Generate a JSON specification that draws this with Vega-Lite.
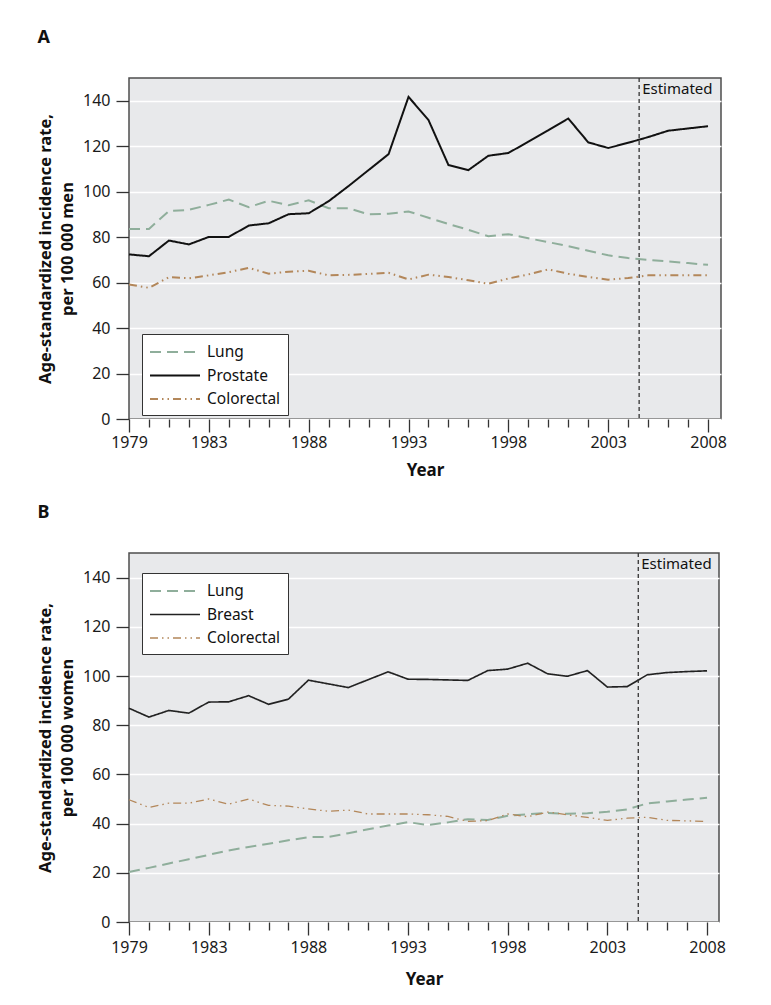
{
  "$schema": "https://vega.github.io/schema/vega-lite/v6.json",
  "background": "white",
  "padding": {"left": 36, "top": 28, "right": 10, "bottom": 5},
  "spacing": 24,
  "config": {
    "font": "Noto Sans",
    "view": {"fill": "#e8e9eb", "stroke": "#4d4d4d", "strokeWidth": 1.5},
    "axis": {"labelFontSize": 16, "labelColor": "#1a1a1a", "titleFontSize": 17, "titleFontWeight": "bold", "titleColor": "#111111", "tickColor": "#333333", "tickWidth": 1.3, "domain": false},
    "axisY": {"titleFont": "Liberation Sans Narrow, Noto Sans", "titleFontSize": 16.5},
    "legend": {"title": null, "orient": "none", "strokeColor": "#333333", "fillColor": "white", "padding": 7, "symbolType": "M-1,0H4", "symbolSize": 400, "symbolStrokeWidth": 2, "labelFontSize": 15.5, "labelOffset": 36, "rowPadding": 3.5, "labelColor": "#111111"},
    "title": {"fontSize": 18, "fontWeight": "bold", "anchor": "start", "frame": "bounds", "offset": 30, "color": "#111111"}
  },
  "datasets": {
    "men": [
      {"year":1979,"series":"Lung","rate":83.6},{"year":1980,"series":"Lung","rate":83.6},{"year":1981,"series":"Lung","rate":91.5},{"year":1982,"series":"Lung","rate":92.0},{"year":1983,"series":"Lung","rate":94.2},{"year":1984,"series":"Lung","rate":96.5},{"year":1985,"series":"Lung","rate":93.2},{"year":1986,"series":"Lung","rate":96.0},{"year":1987,"series":"Lung","rate":94.0},{"year":1988,"series":"Lung","rate":96.2},{"year":1989,"series":"Lung","rate":92.7},{"year":1990,"series":"Lung","rate":92.7},{"year":1991,"series":"Lung","rate":90.0},{"year":1992,"series":"Lung","rate":90.3},{"year":1993,"series":"Lung","rate":91.3},{"year":1994,"series":"Lung","rate":88.5},{"year":1995,"series":"Lung","rate":85.8},{"year":1996,"series":"Lung","rate":83.2},{"year":1997,"series":"Lung","rate":80.4},{"year":1998,"series":"Lung","rate":81.3},{"year":1999,"series":"Lung","rate":79.5},{"year":2000,"series":"Lung","rate":77.8},{"year":2001,"series":"Lung","rate":76.0},{"year":2002,"series":"Lung","rate":74.0},{"year":2003,"series":"Lung","rate":72.0},{"year":2004,"series":"Lung","rate":70.8},{"year":2005,"series":"Lung","rate":70.0},{"year":2006,"series":"Lung","rate":69.3},{"year":2007,"series":"Lung","rate":68.6},{"year":2008,"series":"Lung","rate":67.8},
      {"year":1979,"series":"Prostate","rate":72.4},{"year":1980,"series":"Prostate","rate":71.6},{"year":1981,"series":"Prostate","rate":78.5},{"year":1982,"series":"Prostate","rate":76.8},{"year":1983,"series":"Prostate","rate":80.1},{"year":1984,"series":"Prostate","rate":80.1},{"year":1985,"series":"Prostate","rate":85.1},{"year":1986,"series":"Prostate","rate":86.1},{"year":1987,"series":"Prostate","rate":90.1},{"year":1988,"series":"Prostate","rate":90.5},{"year":1989,"series":"Prostate","rate":95.8},{"year":1990,"series":"Prostate","rate":102.5},{"year":1991,"series":"Prostate","rate":109.5},{"year":1992,"series":"Prostate","rate":116.5},{"year":1993,"series":"Prostate","rate":141.7},{"year":1994,"series":"Prostate","rate":131.5},{"year":1995,"series":"Prostate","rate":111.7},{"year":1996,"series":"Prostate","rate":109.5},{"year":1997,"series":"Prostate","rate":115.8},{"year":1998,"series":"Prostate","rate":117.0},{"year":1999,"series":"Prostate","rate":122.0},{"year":2000,"series":"Prostate","rate":127.0},{"year":2001,"series":"Prostate","rate":132.2},{"year":2002,"series":"Prostate","rate":121.7},{"year":2003,"series":"Prostate","rate":119.2},{"year":2004,"series":"Prostate","rate":121.5},{"year":2005,"series":"Prostate","rate":124.0},{"year":2006,"series":"Prostate","rate":126.8},{"year":2007,"series":"Prostate","rate":127.8},{"year":2008,"series":"Prostate","rate":128.8},
      {"year":1979,"series":"Colorectal","rate":59.2},{"year":1980,"series":"Colorectal","rate":57.7},{"year":1981,"series":"Colorectal","rate":62.4},{"year":1982,"series":"Colorectal","rate":61.9},{"year":1983,"series":"Colorectal","rate":63.2},{"year":1984,"series":"Colorectal","rate":64.6},{"year":1985,"series":"Colorectal","rate":66.5},{"year":1986,"series":"Colorectal","rate":63.9},{"year":1987,"series":"Colorectal","rate":64.8},{"year":1988,"series":"Colorectal","rate":65.2},{"year":1989,"series":"Colorectal","rate":63.2},{"year":1990,"series":"Colorectal","rate":63.4},{"year":1991,"series":"Colorectal","rate":63.8},{"year":1992,"series":"Colorectal","rate":64.3},{"year":1993,"series":"Colorectal","rate":61.4},{"year":1994,"series":"Colorectal","rate":63.5},{"year":1995,"series":"Colorectal","rate":62.5},{"year":1996,"series":"Colorectal","rate":61.0},{"year":1997,"series":"Colorectal","rate":59.5},{"year":1998,"series":"Colorectal","rate":61.8},{"year":1999,"series":"Colorectal","rate":63.6},{"year":2000,"series":"Colorectal","rate":65.8},{"year":2001,"series":"Colorectal","rate":63.9},{"year":2002,"series":"Colorectal","rate":62.5},{"year":2003,"series":"Colorectal","rate":61.3},{"year":2004,"series":"Colorectal","rate":62.0},{"year":2005,"series":"Colorectal","rate":63.2},{"year":2006,"series":"Colorectal","rate":63.2},{"year":2007,"series":"Colorectal","rate":63.2},{"year":2008,"series":"Colorectal","rate":63.2}
    ],
    "women": [
      {"year":1979,"series":"Lung","rate":20.3},{"year":1980,"series":"Lung","rate":22.0},{"year":1981,"series":"Lung","rate":23.8},{"year":1982,"series":"Lung","rate":25.5},{"year":1983,"series":"Lung","rate":27.3},{"year":1984,"series":"Lung","rate":29.1},{"year":1985,"series":"Lung","rate":30.5},{"year":1986,"series":"Lung","rate":31.8},{"year":1987,"series":"Lung","rate":33.2},{"year":1988,"series":"Lung","rate":34.5},{"year":1989,"series":"Lung","rate":34.6},{"year":1990,"series":"Lung","rate":36.1},{"year":1991,"series":"Lung","rate":37.7},{"year":1992,"series":"Lung","rate":39.2},{"year":1993,"series":"Lung","rate":40.6},{"year":1994,"series":"Lung","rate":39.4},{"year":1995,"series":"Lung","rate":40.5},{"year":1996,"series":"Lung","rate":41.8},{"year":1997,"series":"Lung","rate":41.5},{"year":1998,"series":"Lung","rate":43.2},{"year":1999,"series":"Lung","rate":43.8},{"year":2000,"series":"Lung","rate":44.3},{"year":2001,"series":"Lung","rate":44.0},{"year":2002,"series":"Lung","rate":44.2},{"year":2003,"series":"Lung","rate":44.8},{"year":2004,"series":"Lung","rate":45.8},{"year":2005,"series":"Lung","rate":48.2},{"year":2006,"series":"Lung","rate":49.0},{"year":2007,"series":"Lung","rate":49.8},{"year":2008,"series":"Lung","rate":50.5},
      {"year":1979,"series":"Breast","rate":86.9},{"year":1980,"series":"Breast","rate":83.3},{"year":1981,"series":"Breast","rate":86.0},{"year":1982,"series":"Breast","rate":84.9},{"year":1983,"series":"Breast","rate":89.4},{"year":1984,"series":"Breast","rate":89.5},{"year":1985,"series":"Breast","rate":92.0},{"year":1986,"series":"Breast","rate":88.5},{"year":1987,"series":"Breast","rate":90.6},{"year":1988,"series":"Breast","rate":98.3},{"year":1989,"series":"Breast","rate":96.8},{"year":1990,"series":"Breast","rate":95.3},{"year":1991,"series":"Breast","rate":98.5},{"year":1992,"series":"Breast","rate":101.7},{"year":1993,"series":"Breast","rate":98.7},{"year":1994,"series":"Breast","rate":98.6},{"year":1995,"series":"Breast","rate":98.4},{"year":1996,"series":"Breast","rate":98.2},{"year":1997,"series":"Breast","rate":102.2},{"year":1998,"series":"Breast","rate":102.8},{"year":1999,"series":"Breast","rate":105.2},{"year":2000,"series":"Breast","rate":100.9},{"year":2001,"series":"Breast","rate":99.9},{"year":2002,"series":"Breast","rate":102.2},{"year":2003,"series":"Breast","rate":95.5},{"year":2004,"series":"Breast","rate":95.7},{"year":2005,"series":"Breast","rate":100.5},{"year":2006,"series":"Breast","rate":101.4},{"year":2007,"series":"Breast","rate":101.8},{"year":2008,"series":"Breast","rate":102.1},
      {"year":1979,"series":"Colorectal","rate":49.7},{"year":1980,"series":"Colorectal","rate":46.6},{"year":1981,"series":"Colorectal","rate":48.3},{"year":1982,"series":"Colorectal","rate":48.3},{"year":1983,"series":"Colorectal","rate":50.0},{"year":1984,"series":"Colorectal","rate":47.9},{"year":1985,"series":"Colorectal","rate":50.0},{"year":1986,"series":"Colorectal","rate":47.4},{"year":1987,"series":"Colorectal","rate":47.1},{"year":1988,"series":"Colorectal","rate":46.0},{"year":1989,"series":"Colorectal","rate":45.0},{"year":1990,"series":"Colorectal","rate":45.5},{"year":1991,"series":"Colorectal","rate":43.9},{"year":1992,"series":"Colorectal","rate":43.9},{"year":1993,"series":"Colorectal","rate":43.9},{"year":1994,"series":"Colorectal","rate":43.6},{"year":1995,"series":"Colorectal","rate":42.9},{"year":1996,"series":"Colorectal","rate":40.9},{"year":1997,"series":"Colorectal","rate":41.2},{"year":1998,"series":"Colorectal","rate":43.9},{"year":1999,"series":"Colorectal","rate":42.8},{"year":2000,"series":"Colorectal","rate":44.7},{"year":2001,"series":"Colorectal","rate":43.6},{"year":2002,"series":"Colorectal","rate":42.5},{"year":2003,"series":"Colorectal","rate":41.3},{"year":2004,"series":"Colorectal","rate":42.2},{"year":2005,"series":"Colorectal","rate":42.6},{"year":2006,"series":"Colorectal","rate":41.3},{"year":2007,"series":"Colorectal","rate":41.1},{"year":2008,"series":"Colorectal","rate":40.9}
    ]
  },
  "resolve": {"scale": {"color": "independent", "strokeDash": "independent", "strokeWidth": "independent"}, "legend": {"color": "independent", "strokeDash": "independent", "strokeWidth": "independent"}},
  "vconcat": [
    {
      "title": {"text": "A"},
      "width": 592,
      "height": 341,
      "layer": [
        {
          "data": {"name": "men"},
          "mark": {"type": "line", "strokeWidth": 2},
          "encoding": {
            "x": {"field": "year", "type": "quantitative", "scale": {"domain": [1979, 2008.65], "nice": false, "zero": false},
              "axis": {"values": [1979,1980,1981,1982,1983,1984,1985,1986,1987,1988,1989,1990,1991,1992,1993,1994,1995,1996,1997,1998,1999,2000,2001,2002,2003,2004,2005,2006,2007,2008],
                "tickCount": 60,
                "labelExpr": "indexof([1979,1983,1988,1993,1998,2003,2008], datum.value) >= 0 ? '' + datum.value : ''",
                "tickSize": {"condition": {"test": "indexof([1979,1983,1988,1993,1998,2003,2008], datum.value) >= 0", "value": 13}, "value": 8},
                "labelPadding": 2, "labelOverlap": false, "labelFlush": false, "grid": false, "title": "Year", "titlePadding": 12}},
            "y": {"field": "rate", "type": "quantitative", "scale": {"domain": [0, 150], "nice": false},
              "axis": {"values": [0,20,40,60,80,100,120,140], "grid": true, "gridColor": "white", "gridWidth": 1.5, "tickSize": 13, "labelPadding": 6, "titlePadding": 7, "titleLineHeight": 22,
                "title": ["Age-standardized incidence rate,", "per 100 000 men"]}},
            "color": {"field": "series", "type": "nominal", "scale": {"domain": ["Lung", "Prostate", "Colorectal"], "range": ["#8fae9b", "#111111", "#b3875a"]},
              "legend": {"legendX": 13, "legendY": 256}},
            "strokeDash": {"field": "series", "type": "nominal", "scale": {"domain": ["Lung", "Prostate", "Colorectal"], "range": [[11, 6], [1, 0], [8, 4, 1.5, 4, 1.5, 4]]},
              "legend": {"legendX": 13, "legendY": 256}}
          }
        },
        {
          "data": {"values": [{"label": "Estimated"}]},
          "mark": {"type": "rule", "strokeDash": [4, 3], "color": "#333333", "strokeWidth": 1.3},
          "encoding": {"x": {"datum": 2004.55}}
        },
        {
          "data": {"values": [{"label": "Estimated"}]},
          "mark": {"type": "text", "align": "left", "baseline": "top", "dx": 3, "dy": 4, "fontSize": 15, "color": "#111111"},
          "encoding": {"x": {"datum": 2004.55}, "y": {"datum": 150}, "text": {"field": "label"}}
        }
      ]
    },
    {
      "title": {"text": "B"},
      "width": 590,
      "height": 369,
      "layer": [
        {
          "data": {"name": "women"},
          "mark": {"type": "line"},
          "encoding": {
            "x": {"field": "year", "type": "quantitative", "scale": {"domain": [1979, 2008.6], "nice": false, "zero": false},
              "axis": {"values": [1979,1980,1981,1982,1983,1984,1985,1986,1987,1988,1989,1990,1991,1992,1993,1994,1995,1996,1997,1998,1999,2000,2001,2002,2003,2004,2005,2006,2007,2008],
                "tickCount": 60,
                "labelExpr": "indexof([1979,1983,1988,1993,1998,2003,2008], datum.value) >= 0 ? '' + datum.value : ''",
                "tickSize": {"condition": {"test": "indexof([1979,1983,1988,1993,1998,2003,2008], datum.value) >= 0", "value": 13}, "value": 8},
                "labelPadding": 4, "labelOverlap": false, "labelFlush": false, "grid": false, "title": "Year", "titlePadding": 16}},
            "y": {"field": "rate", "type": "quantitative", "scale": {"domain": [0, 150], "nice": false},
              "axis": {"values": [0,20,40,60,80,100,120,140], "grid": true, "gridColor": "white", "gridWidth": 1.5, "tickSize": 13, "labelPadding": 6, "titlePadding": 7, "titleLineHeight": 22,
                "title": ["Age-standardized incidence rate,", "per 100 000 women"]}},
            "color": {"field": "series", "type": "nominal", "scale": {"domain": ["Lung", "Breast", "Colorectal"], "range": ["#8fae9b", "#222222", "#b3875a"]},
              "legend": {"legendX": 13, "legendY": 20}},
            "strokeDash": {"field": "series", "type": "nominal", "scale": {"domain": ["Lung", "Breast", "Colorectal"], "range": [[11, 6], [1, 0], [8, 4, 1.5, 4, 1.5, 4]]},
              "legend": {"legendX": 13, "legendY": 20}},
            "strokeWidth": {"field": "series", "type": "nominal", "scale": {"domain": ["Lung", "Breast", "Colorectal"], "range": [2, 1.3, 2]},
              "legend": {"legendX": 13, "legendY": 20}}
          }
        },
        {
          "data": {"values": [{"label": "Estimated"}]},
          "mark": {"type": "rule", "strokeDash": [4, 3], "color": "#333333", "strokeWidth": 1.3},
          "encoding": {"x": {"datum": 2004.55}}
        },
        {
          "data": {"values": [{"label": "Estimated"}]},
          "mark": {"type": "text", "align": "left", "baseline": "top", "dx": 3, "dy": 4, "fontSize": 15, "color": "#111111"},
          "encoding": {"x": {"datum": 2004.55}, "y": {"datum": 150}, "text": {"field": "label"}}
        }
      ]
    }
  ]
}
